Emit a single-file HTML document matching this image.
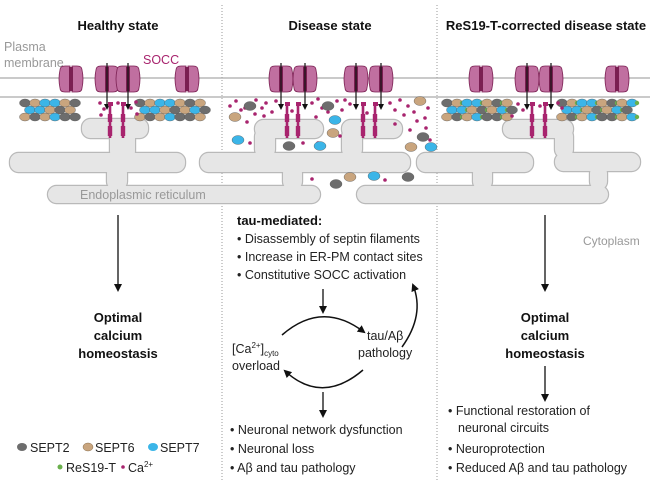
<!DOCTYPE html>
<html><head><meta charset="utf-8"><style>
html,body{margin:0;padding:0;background:#fff}
svg{display:block;font-family:"Liberation Sans",sans-serif}
.t{font-size:12.5px;fill:#222}
.b{font-weight:bold;font-size:13px;fill:#111}
</style></head><body>
<svg id="s" width="650" height="489" viewBox="0 0 650 489" xmlns="http://www.w3.org/2000/svg">
<defs>
<marker id="ah" markerWidth="8" markerHeight="8" refX="6" refY="4" orient="auto" markerUnits="userSpaceOnUse"><path d="M0,0 L8,4 L0,8 Z" fill="#111"/></marker>
</defs>
<line x1="222" y1="5" x2="222" y2="482" stroke="#999" stroke-dasharray="1,2"/>
<line x1="437" y1="5" x2="437" y2="482" stroke="#999" stroke-dasharray="1,2"/>
<text class="b" x="118" y="30" text-anchor="middle">Healthy state</text>
<text class="b" x="330" y="30" text-anchor="middle">Disease state</text>
<text class="b" x="546" y="30" text-anchor="middle">ReS19-T-corrected disease state</text>
<text x="4" y="51" font-size="12.5" fill="#999">Plasma</text>
<text x="4" y="67" font-size="12.5" fill="#999">membrane</text>
<text x="143" y="64" font-size="12.5" fill="#a8246e">SOCC</text>
<line x1="0" y1="78" x2="650" y2="78" stroke="#aaa" stroke-width="1.3"/>
<line x1="0" y1="97" x2="650" y2="97" stroke="#aaa" stroke-width="1.3"/>
<g id="er"></g>
<text x="80" y="199" font-size="12.5" fill="#999">Endoplasmic reticulum</text>
<text x="583" y="245" font-size="12" fill="#999">Cytoplasm</text>
<g id="dyn"></g>
<line x1="118" y1="215" x2="118" y2="290" stroke="#111" stroke-width="1.3" marker-end="url(#ah)"/>
<text class="b" text-anchor="middle" x="118" y="322">Optimal</text>
<text class="b" text-anchor="middle" x="118" y="340">calcium</text>
<text class="b" text-anchor="middle" x="118" y="358">homeostasis</text>
<line x1="545" y1="215" x2="545" y2="290" stroke="#111" stroke-width="1.3" marker-end="url(#ah)"/>
<text class="b" text-anchor="middle" x="545" y="322">Optimal</text>
<text class="b" text-anchor="middle" x="545" y="340">calcium</text>
<text class="b" text-anchor="middle" x="545" y="358">homeostasis</text>
<line x1="545" y1="366" x2="545" y2="400" stroke="#111" stroke-width="1.3" marker-end="url(#ah)"/>
<text class="t" x="448" y="415">• Functional restoration of</text>
<text class="t" x="458" y="432">neuronal circuits</text>
<text class="t" x="448" y="453">• Neuroprotection</text>
<text class="t" x="448" y="472">• Reduced Aβ and tau pathology</text>
<text class="b" x="237" y="225">tau-mediated:</text>
<text class="t" x="237" y="243">• Disassembly of septin filaments</text>
<text class="t" x="237" y="261">• Increase in ER-PM contact sites</text>
<text class="t" x="237" y="279">• Constitutive SOCC activation</text>
<line x1="323" y1="289" x2="323" y2="312" stroke="#111" stroke-width="1.3" marker-end="url(#ah)"/>
<path d="M282,335 Q322,300 364,332" fill="none" stroke="#111" stroke-width="1.5" marker-end="url(#ah)"/>
<path d="M363,370 Q322,405 285,371" fill="none" stroke="#111" stroke-width="1.5" marker-end="url(#ah)"/>
<path d="M402,347 Q425,315 413,285" fill="none" stroke="#111" stroke-width="1.5" marker-end="url(#ah)"/>
<text class="t" x="232" y="353" font-size="13">[Ca<tspan font-size="8" dy="-5">2+</tspan><tspan dy="5">]</tspan><tspan font-size="8" dy="3">cyto</tspan></text>
<text class="t" x="232" y="370" font-size="13">overload</text>
<text class="t" x="367" y="340" font-size="13">tau/Aβ</text>
<text class="t" x="358" y="357" font-size="13">pathology</text>
<line x1="323" y1="392" x2="323" y2="416" stroke="#111" stroke-width="1.3" marker-end="url(#ah)"/>
<text class="t" x="230" y="434">• Neuronal network dysfunction</text>
<text class="t" x="230" y="453">• Neuronal loss</text>
<text class="t" x="230" y="472">• Aβ and tau pathology</text>
<ellipse cx="22" cy="447" rx="5" ry="4" fill="#6d6d6d"/>
<text class="t" x="30" y="452">SEPT2</text>
<ellipse cx="88" cy="447" rx="5" ry="4" fill="#c9a57e" stroke="#8a7050" stroke-width=".5"/>
<text class="t" x="95" y="452">SEPT6</text>
<ellipse cx="153" cy="447" rx="5" ry="4" fill="#3bb5e8"/>
<text class="t" x="160" y="452">SEPT7</text>
<circle cx="60" cy="467" r="2.5" fill="#6ab04c"/>
<text class="t" x="66" y="472">ReS19-T</text>
<circle cx="123" cy="467" r="1.8" fill="#a8246e"/>
<text class="t" x="128" y="472">Ca<tspan font-size="8" dy="-5">2+</tspan></text>
</svg>
<script>
var NS="http://www.w3.org/2000/svg";
function el(p,t,a){var e=document.createElementNS(NS,t);for(var k in a)e.setAttribute(k,a[k]);p.appendChild(e);return e;}
var er=document.getElementById('er');
var R=[[82,119,66,19],[110,128,25,32],[10,153,175,19],[107,165,20,25],[48,186,272,17],
[200,153,210,19],[255,120,68,18],[255,128,20,30],[342,120,60,18],[342,128,20,30],[283,165,19,25],
[417,153,116,19],[357,186,251,17],[473,165,19,25],[503,120,70,18],[555,128,18,30],[555,153,85,18],[590,165,17,25]];
R.forEach(function(r){el(er,'rect',{x:r[0],y:r[1],width:r[2],height:r[3],rx:8.5,fill:'none',stroke:'#b9b9b9','stroke-width':2.4});});
R.forEach(function(r){el(er,'rect',{x:r[0],y:r[1],width:r[2],height:r[3],rx:8.5,fill:'#e6e6e6'});});
var d=document.getElementById('dyn');
var C={g:'#6d6d6d',t:'#c9a57e',b:'#3bb5e8'};
function fil(x0,x1,green){var pat=['g','t','b','b','t','g','t','b','g'];
for(var row=0;row<3;row++){var y=103+row*7;var off=(row%2)*5;var i=0;
for(var x=x0+off;x<=x1;x+=10){var c=pat[(i+row*2)%pat.length];i++;
el(d,'ellipse',{cx:x,cy:y,rx:5.5,ry:4,fill:C[c],stroke:'#555','stroke-width':.4});
if(green&&i%2==0)el(d,'circle',{cx:x+5,cy:y,r:2.2,fill:'#6ab04c'});}}}
fil(25,78);fil(140,208);fil(447,512,1);fil(562,632,1);
function chan(cx,act){var g=el(d,'g',{});
el(g,'path',{d:'M'+(cx-11)+',70 q0,-4 5,-4 h5 v26 h-5 q-5,0 -5,-4 q-2,-9 0,-18 z',fill:'#c06fa0',stroke:'#7a1f52','stroke-width':.8});
el(g,'path',{d:'M'+(cx+11)+',70 q0,-4 -5,-4 h-5 v26 h5 q5,0 5,-4 q2,-9 0,-18 z',fill:'#c06fa0',stroke:'#7a1f52','stroke-width':.8});
el(g,'rect',{x:cx-2,y:67,width:4,height:24,fill:'#7a1f52'});
if(act){el(g,'line',{x1:cx,y1:63,x2:cx,y2:106,stroke:'#111','stroke-width':1.2});el(g,'path',{d:'M'+(cx-3)+',104 L'+(cx+3)+',104 L'+cx+',110 Z',fill:'#111'});}}
[[71,0],[107,1],[128,1],[187,0],[281,1],[305,1],[356,1],[381,1],[481,0],[527,1],[551,1],[617,0]].forEach(function(c){chan(c[0],c[1]);});
function stim(x){el(d,'rect',{x:x-2,y:102,width:5,height:4,fill:'#a8246e'});el(d,'rect',{x:x-1.3,y:106,width:2.6,height:32,fill:'#a8246e'});
el(d,'rect',{x:x-2.2,y:114,width:4.4,height:8,fill:'#a8246e'});el(d,'rect',{x:x-2.2,y:126,width:4.4,height:10,fill:'#a8246e'});}
[110,123,287,298,363,375,532,545].forEach(stim);
var dots=[[100,103],[104,109],[118,103],[131,108],[136,102],[101,115],[137,114],
[230,106],[236,101],[241,110],[250,104],[256,100],[262,108],[266,103],[272,112],[276,101],[292,111],[299,104],[312,103],[318,99],[322,108],[328,112],[337,101],[342,110],[350,104],[367,113],[390,103],[395,110],[400,100],[404,115],[408,106],[414,112],[420,102],[425,118],[428,108],[232,117],[247,122],[264,116],[316,117],[334,121],[340,136],[395,124],[410,130],[426,128],[250,143],[303,143],[318,143],[312,179],[385,180],[234,140],[245,108],[345,100],[255,114],[417,121],[430,140],
[518,104],[523,110],[540,106],[558,103],[562,108],[512,116]];
dots.forEach(function(p){el(d,'circle',{cx:p[0],cy:p[1],r:1.8,fill:'#a8246e'});});
var ov=[[250,106,'g'],[235,117,'t'],[238,140,'b'],[328,106,'g'],[335,120,'b'],[333,133,'t'],[289,146,'g'],[320,146,'b'],[420,101,'t'],[423,137,'g'],[411,147,'t'],[431,147,'b'],[374,176,'b'],[350,177,'t'],[336,184,'g'],[408,177,'g']];
ov.forEach(function(o){el(d,'ellipse',{cx:o[0],cy:o[1],rx:6,ry:4.5,fill:C[o[2]],stroke:'#555','stroke-width':.4});});
</script>
</body></html>
